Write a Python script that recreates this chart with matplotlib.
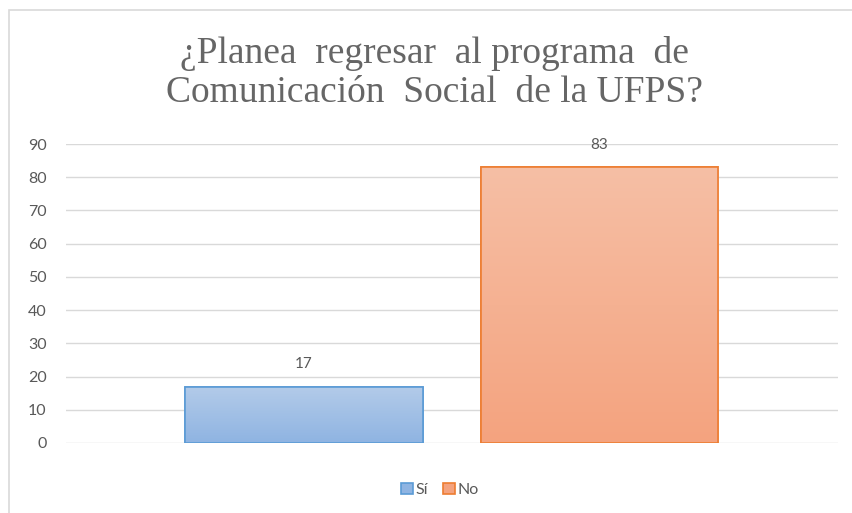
import numpy as np
import matplotlib.pyplot as plt
from matplotlib.patches import Rectangle
from matplotlib.colors import LinearSegmentedColormap

# data
series = ['Sí', 'No']
values = [17, 83]
yticks = [0, 10, 20, 30, 40, 50, 60, 70, 80, 90]
title = '¿Planea  regresar  al programa  de\nComunicación  Social  de la UFPS?'

# colours (top of gradient, bottom of gradient, edge)
fills = [('#b3cbe9', '#8fb4e2', '#5b9bd5'), ('#f6bfa5', '#f4a37f', '#ed7d31')]
grey = '#595959'

fig = plt.figure(figsize=(8.52, 5.13), dpi=100)
ax = fig.add_axes([66/852, 70/513, 772/852, 299/513])

# chart border (only top/left visible in the reference)
fig.patches.append(Rectangle((9/852, -0.1), 2, (513-10)/513 + 0.1, transform=fig.transFigure,
                             fill=False, edgecolor='#d9d9d9', lw=1.2))

width = 0.308
offsets = [-0.192, 0.191]
for i, (s, v) in enumerate(zip(series, values)):
    b = ax.bar(offsets[i], v, width=width, color=fills[i][1], edgecolor=fills[i][2],
               linewidth=1.2, label=s, zorder=3)[0]
    # vertical gradient clipped to the bar
    grad = np.linspace(0, 1, 100).reshape(-1, 1)
    cmap = LinearSegmentedColormap.from_list('g%d' % i, [fills[i][0], fills[i][1]])
    im = ax.imshow(grad, cmap=cmap, aspect='auto', zorder=3.5,
                   extent=[b.get_x(), b.get_x() + b.get_width(), 0, v], origin='upper')
    im.set_clip_path(b)
    ax.add_patch(Rectangle((b.get_x(), 0), b.get_width(), v, fill=False,
                           edgecolor=fills[i][2], lw=1.2, zorder=4))
    ax.annotate(str(v), (offsets[i], v), xytext=(0, 16), textcoords='offset points',
                ha='center', va='center', fontsize=11, color=grey, family='Lato', zorder=5)

ax.set_xlim(-0.5, 0.5)
ax.set_ylim(0, 90)
ax.set_yticks(yticks)
ax.set_xticks([])
ax.grid(axis='y', color='#d9d9d9', lw=1, zorder=0)
for sp in ax.spines.values():
    sp.set_visible(False)
ax.tick_params(axis='y', length=0, pad=14, labelsize=11.5, labelcolor=grey)
for t in ax.get_yticklabels():
    t.set_family('Lato')

fig.text(0.51, 1 - 73/513, title, ha='center', va='center', fontsize=27,
         family='Liberation Serif', color='#666666', linespacing=1.2)

leg = ax.legend(loc='center', bbox_to_anchor=(440/852, 1 - 490/513), bbox_transform=fig.transFigure,
                ncol=2, frameon=False, handlelength=0.75, handleheight=0.75, handletextpad=0.2,
                columnspacing=0.9, prop={'family': 'Lato', 'size': 11.5})
for t in leg.get_texts():
    t.set_color(grey)

fig.savefig('out.png', dpi=100, facecolor='white')
